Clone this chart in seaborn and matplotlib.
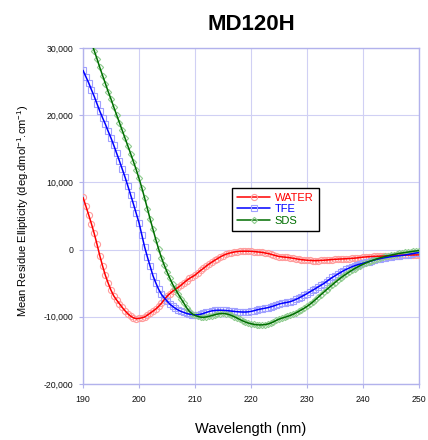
import numpy as np
import pandas as pd
import matplotlib
matplotlib.use("Agg")
import matplotlib.pyplot as plt
from matplotlib.lines import Line2D
from matplotlib.ticker import FuncFormatter
import seaborn as sns

# ---------------- data (0.5 nm steps) ----------------
wavelength = np.arange(190, 250.5, 0.5)

water = [
    7770, 6500, 5200, 3850, 2400, 800, -900, -2450, -3850, -5000,            # 190
    -6050, -6900, -7500, -8050, -8600, -9100, -9540, -9900, -10150, -10280,  # 195
    -10250, -10150, -10030, -9750, -9450, -9150, -8850, -8450, -8000, -7450, # 200
    -6950, -6550, -6200, -5900, -5620, -5300, -4950, -4600, -4300, -4050,    # 205
    -3800, -3450, -3100, -2800, -2450, -2150, -1870, -1600, -1350, -1100,    # 210
    -880, -700, -560, -450, -360, -300, -260, -240, -240, -240,              # 215
    -260, -290, -330, -370, -420, -500, -580, -680, -800, -920,              # 220
    -1030, -1080, -1120, -1160, -1220, -1290, -1360, -1430, -1490, -1540,    # 225
    -1580, -1610, -1630, -1640, -1630, -1610, -1580, -1550, -1510, -1480,    # 230
    -1450, -1420, -1400, -1380, -1360, -1340, -1310, -1270, -1230, -1180,    # 235
    -1130, -1090, -1060, -1030, -1010, -990, -980, -970, -950, -930,         # 240
    -910, -890, -870, -850, -830, -820, -810, -800, -800, -790,              # 245
    -790,                                                                    # 250
]

tfe = [
    26670, 25750, 24840, 23800, 22800, 21700, 20600, 19600, 18650, 17600,    # 190
    16600, 15500, 14350, 13200, 12000, 10800, 9500, 8150, 6800, 5400,        # 195
    4000, 2200, 400, -1100, -2500, -3900, -4950, -5900, -6650, -7200,        # 200
    -7650, -8100, -8450, -8750, -9000, -9200, -9350, -9500, -9600, -9680,    # 205
    -9720, -9700, -9620, -9500, -9350, -9220, -9120, -9060, -9030, -9020,    # 210
    -9030, -9060, -9100, -9150, -9200, -9240, -9270, -9290, -9290, -9260,    # 215
    -9200, -9100, -8980, -8880, -8800, -8720, -8640, -8520, -8400, -8250,    # 220
    -8100, -8000, -7920, -7840, -7750, -7600, -7420, -7220, -7000, -6780,    # 225
    -6550, -6300, -6050, -5800, -5550, -5300, -5050, -4750, -4450, -4150,    # 230
    -3900, -3650, -3400, -3150, -2950, -2750, -2560, -2400, -2260, -2140,    # 235
    -2030, -1910, -1790, -1670, -1560, -1450, -1360, -1270, -1190, -1120,    # 240
    -1050, -990, -940, -900, -860, -800, -730, -650, -580, -500,             # 245
    -440,                                                                    # 250
]

sds = [
    34400, 33300, 32100, 30800, 29600, 28400, 27100, 25900, 24700, 23500,    # 190
    22400, 21200, 20050, 18900, 17750, 16600, 15450, 14300, 13100, 11900,    # 195
    10600, 9200, 7700, 6100, 4500, 3000, 1500, 100, -1200, -2300,            # 200
    -3300, -4250, -5150, -5900, -6600, -7300, -7950, -8650, -9200, -9550,    # 205
    -9800, -9950, -10050, -10080, -10020, -9930, -9820, -9700, -9600, -9530, # 210
    -9500, -9550, -9650, -9800, -9980, -10180, -10400, -10600, -10780, -10920,  # 215
    -11030, -11120, -11180, -11210, -11200, -11160, -11070, -10940, -10760, -10540,  # 220
    -10350, -10200, -10080, -9950, -9800, -9620, -9420, -9200, -8960, -8720, # 225
    -8450, -8150, -7820, -7450, -7080, -6700, -6330, -5960, -5600, -5250,    # 230
    -4900, -4560, -4230, -3920, -3630, -3350, -3080, -2830, -2600, -2380,    # 235
    -2180, -1990, -1820, -1660, -1510, -1370, -1240, -1120, -1010, -910,     # 240
    -820, -730, -650, -570, -500, -430, -370, -310, -250, -200,              # 245
    -150,                                                                    # 250
]

series_names = ["WATER", "TFE", "SDS"]
x_ticks = [190, 200, 210, 220, 230, 240, 250]
y_ticks = [-20000, -10000, 0, 10000, 20000, 30000]

# ---------------- styling ----------------
sns.set_theme(style="white")
plt.rcParams["font.family"] = ["Liberation Sans", "DejaVu Sans"]
plt.rcParams["mathtext.fontset"] = "custom"
plt.rcParams["mathtext.rm"] = "Liberation Sans"
plt.rcParams["text.color"] = "black"
plt.rcParams["axes.labelcolor"] = "black"

styles = {
    "WATER": dict(line="#ff0000", mec="#ff9c9c", marker="o", ms=4.4),
    "TFE": dict(line="#0000ff", mec="#a0a0ff", marker="s", ms=4.2),
    "SDS": dict(line="#006e00", mec="#90cc90", marker="D", ms=3.2),
}

df = pd.DataFrame({"Wavelength": wavelength, "WATER": water, "TFE": tfe, "SDS": sds})
long = df.melt(id_vars="Wavelength", var_name="Solvent", value_name="Ellipticity")

fig = plt.figure(figsize=(4.28, 4.40), dpi=100)
ax = fig.add_axes([83 / 428, 1 - 384 / 440, 336 / 428, 336 / 440])

grid_c = "#d0d0f4"
spine_c = "#b2b2ec"

for name in series_names:
    st = styles[name]
    sub = long[long["Solvent"] == name]
    # marker layer (under the line)
    sns.lineplot(data=sub, x="Wavelength", y="Ellipticity", ax=ax, linestyle="",
                 marker=st["marker"], markersize=st["ms"], markerfacecolor="none",
                 markeredgecolor=st["mec"], markeredgewidth=0.8, zorder=3,
                 legend=False, estimator=None, sort=False)
    # line layer
    sns.lineplot(data=sub, x="Wavelength", y="Ellipticity", ax=ax, color=st["line"],
                 linewidth=1.1, zorder=4, legend=False, estimator=None, sort=False)

ax.set_xlim(190, 250)
ax.set_ylim(-20000, 30000)
ax.set_xticks(x_ticks)
ax.set_yticks(y_ticks)
ax.yaxis.set_major_formatter(FuncFormatter(lambda v, p: f"{int(v):,}"))
ax.grid(True, color=grid_c, linewidth=0.8, zorder=0)
ax.set_axisbelow(True)
for s in ax.spines.values():
    s.set_color(spine_c)
    s.set_linewidth(1.0)
ax.tick_params(axis="both", labelsize=6.3, length=3, width=0.8, color=spine_c,
               direction="out", left=True, bottom=True, labelcolor="#111111")
ax.tick_params(axis="y", pad=4)
ax.tick_params(axis="x", pad=5)

ax.set_xlabel("Wavelength (nm)", fontsize=10.5)
ax.xaxis.set_label_coords(0.5, -(422 - 384) / 336)
ax.set_ylabel(r"Mean Residue Ellipticity (deg.dmol$^{\mathregular{-1}}$.cm$^{\mathregular{-1}}$)",
              fontsize=8)
ax.yaxis.set_label_coords(-(83 - 31) / 336, (384 - 211) / 336)

fig.text(251 / 428, 1 - 24 / 440, "MD120H", ha="center", va="center",
         fontsize=16, fontweight="bold", color="black")

handles = [Line2D([0], [0], color=styles[n]["line"], linewidth=1.1,
                  marker=styles[n]["marker"], markersize=styles[n]["ms"],
                  markerfacecolor="none", markeredgecolor=styles[n]["mec"],
                  markeredgewidth=0.8) for n in series_names]
leg = ax.legend(handles, series_names, loc="upper left",
                bbox_to_anchor=((232 - 83) / 336, (384 - 188) / 336),
                fontsize=8, frameon=True, fancybox=False, edgecolor="black",
                framealpha=1, handlelength=3.0, borderpad=0.45, labelspacing=0.12,
                handletextpad=0.4, borderaxespad=0)
leg.get_frame().set_linewidth(1.0)
for t, n in zip(leg.get_texts(), series_names):
    t.set_color(styles[n]["line"])

fig.savefig("out.png", dpi=100)
